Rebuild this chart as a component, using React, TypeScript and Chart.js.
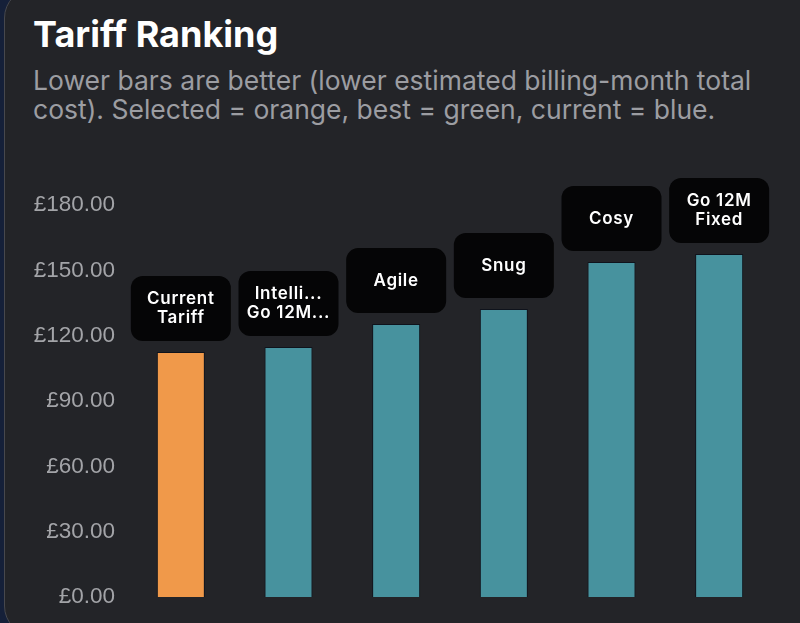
import React, { useEffect, useRef } from "react";
import { Chart, registerables } from "chart.js";

Chart.register(...registerables);

const categories = ["Current Tariff", "Intelligent Go 12M", "Agile", "Snug", "Cosy", "Go 12M Fixed"];
const labelLines = [["Current", "Tariff"], ["Intelli...", "Go 12M..."], ["Agile"], ["Snug"], ["Cosy"], ["Go 12M", "Fixed"]];
const costs = [112.5, 114.8, 125.3, 132.2, 153.8, 157.5];
const barColors = ["#F0994A", "#47929E", "#47929E", "#47929E", "#47929E", "#47929E"];
const yTicks = [0, 30, 60, 90, 120, 150, 180];

const boxPlugin = {
  id: "boxLabels",
  afterDatasetsDraw(chart: any) {
    const ctx = chart.ctx;
    const meta = chart.getDatasetMeta(0);
    ctx.save();
    meta.data.forEach((bar: any, i: number) => {
      const w = 100;
      const h = 65;
      const x = bar.x - w / 2;
      const y = bar.y - 11 - h;
      ctx.fillStyle = "#050506";
      ctx.beginPath();
      ctx.roundRect(x, y, w, h, 12);
      ctx.fill();
      const lines = labelLines[i];
      ctx.fillStyle = "#ffffff";
      ctx.font = "600 17px Inter";
      try {
        (ctx as any).letterSpacing = "0.7px";
      } catch (e) {}
      ctx.textAlign = "center";
      ctx.textBaseline = "middle";
      const lh = 19;
      const cy = y + h / 2;
      lines.forEach((t, k) => {
        ctx.fillText(t, bar.x, cy + (k - (lines.length - 1) / 2) * lh);
      });
    });
    ctx.restore();
  },
};

export default function App() {
  const ref = useRef<HTMLCanvasElement>(null);
  useEffect(() => {
    document.body.style.margin = "0";
    const chart = new Chart(ref.current!, {
      type: "bar",
      data: {
        labels: categories,
        datasets: [
          {
            data: costs,
            backgroundColor: barColors,
            borderColor: "rgba(10,15,25,0.8)",
            borderWidth: 1,
            categoryPercentage: 1,
            barPercentage: 0.446,
          },
        ],
      },
      options: {
        responsive: false,
        animation: false,
        layout: { padding: { left: 0, right: 27, top: 205, bottom: 26 } },
        plugins: { legend: { display: false }, tooltip: { enabled: false } },
        scales: {
          x: { display: false },
          y: {
            min: 0,
            max: 180,
            afterBuildTicks: (s: any) => {
              s.ticks = yTicks.map((v) => ({ value: v }));
            },
            afterFit: (s: any) => {
              s.width = 127;
            },
            grid: { display: false, drawTicks: false },
            border: { display: false },
            ticks: {
              padding: 12,
              color: "#a3a4a8",
              font: { family: "Liberation Sans, Arial, sans-serif", size: 22.5 },
              callback: (v: any) => "£" + Number(v).toFixed(2),
            },
          },
        },
      },
      plugins: [boxPlugin],
    });
    return () => chart.destroy();
  }, []);

  return (
    <div style={{ position: "fixed", left: 0, top: 0, width: 800, height: 623, background: "#152039", overflow: "hidden" }}>
      <div
        style={{
          position: "absolute",
          left: 4,
          top: -12,
          width: 840,
          height: 648,
          borderRadius: 30,
          background: "#232428",
          border: "1px solid #47484d",
          boxSizing: "border-box",
        }}
      />
      <div
        style={{
          position: "absolute",
          left: 33,
          top: 12,
          fontFamily: "Inter",
          fontWeight: 700,
          fontSize: 36,
          color: "#ffffff",
          lineHeight: "44px",
          whiteSpace: "nowrap",
        }}
      >
        Tariff Ranking
      </div>
      <div
        style={{
          position: "absolute",
          left: 33,
          top: 66,
          fontFamily: "Inter",
          fontSize: 26.5,
          color: "#9c9da2",
          lineHeight: "29px",
          whiteSpace: "nowrap",
        }}
      >
        Lower bars are better (lower estimated billing-month total
        <br />
        cost). Selected = orange, best = green, current = blue.
      </div>
      <canvas ref={ref} width={800} height={623} style={{ position: "absolute", left: 0, top: 0, width: 800, height: 623 }} />
    </div>
  );
}
